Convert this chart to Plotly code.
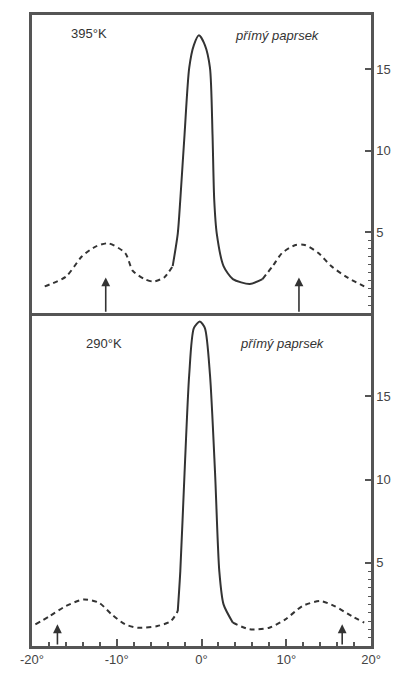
import plotly.graph_objects as go

# Angular scan axis (degrees)
x_ticks = [-20, -10, 0, 10, 20]
x_tick_text = ["-20°", "-10°", "0°", "10°", "20°"]
y_ticks = [5, 10, 15]
y_minor_ticks = [0.5, 1.0, 1.5, 2.0, 2.5, 3.0, 3.5, 4.0, 4.5]

# 395 K scan, split into wings (dashed) and the direct-beam peak (solid)
hot_left_x = [-18.5, -16.0, -14.1, -12.5, -11.0, -9.0, -8.1, -6.7, -5.7, -4.4, -3.4]
hot_left_y = [1.65, 2.25, 3.5, 4.1, 4.3, 3.7, 2.6, 2.1, 1.95, 2.2, 2.9]
hot_mid_x = [-3.4, -2.8, -2.5, -2.0, -1.45, -0.9, -0.3, 0.4, 1.0, 1.3, 1.5, 1.8, 2.6, 3.7, 5.7, 7.2]
hot_mid_y = [2.9, 4.9, 7.0, 11.0, 15.1, 16.5, 17.1, 16.5, 15.1, 11.0, 7.0, 4.9, 2.9, 2.1, 1.8, 2.1]
hot_right_x = [7.2, 8.4, 9.5, 11.1, 12.2, 13.8, 15.3, 17.2, 19.2]
hot_right_y = [2.1, 2.9, 3.7, 4.2, 4.2, 3.7, 2.9, 2.2, 1.65]
hot_arrows_x = [-11.3, 11.5]
hot_arrow_tip = 2.2

# 290 K scan
cold_left_x = [-19.6, -17.9, -16.0, -13.9, -12.1, -10.6, -9.0, -7.5, -5.2, -3.6, -2.8]
cold_left_y = [1.3, 1.8, 2.4, 2.8, 2.6, 1.9, 1.3, 1.1, 1.2, 1.5, 2.1]
cold_mid_x = [-2.8, -2.5, -2.0, -1.45, -0.9, -0.2, 0.4, 1.0, 1.6, 2.1, 2.6, 3.7]
cold_mid_y = [2.1, 4.5, 10.4, 16.3, 19.1, 19.5, 19.1, 16.3, 10.4, 4.5, 2.5, 1.4]
cold_right_x = [3.7, 5.7, 8.0, 9.9, 11.9, 14.0, 15.7, 17.7, 19.2]
cold_right_y = [1.4, 1.0, 1.1, 1.6, 2.4, 2.7, 2.4, 1.8, 1.4]
cold_arrows_x = [-17.0, 16.6]
cold_arrow_tip = 1.3

panel_labels = ["395°K", "290°K"]
beam_label = "přímý paprsek"

INK = "#333333"
FRAME = "#555555"
DASH = "5px,4px"

fig = go.Figure()


def add_curve(xs, ys, xa, ya, dash):
    fig.add_trace(go.Scatter(
        x=xs, y=ys, xaxis=xa, yaxis=ya, mode="lines",
        line=dict(color=INK, width=2, dash=dash, shape="spline", smoothing=0.7),
        hoverinfo="skip", showlegend=False,
    ))


add_curve(hot_left_x, hot_left_y, "x2", "y2", DASH)
add_curve(hot_mid_x, hot_mid_y, "x2", "y2", "solid")
add_curve(hot_right_x, hot_right_y, "x2", "y2", DASH)

add_curve(cold_left_x, cold_left_y, "x", "y", DASH)
add_curve(cold_mid_x, cold_mid_y, "x", "y", "solid")
add_curve(cold_right_x, cold_right_y, "x", "y", DASH)

annotations = []
for ax_x in hot_arrows_x:
    annotations.append(dict(
        x=ax_x, y=hot_arrow_tip, ax=ax_x, ay=0, xref="x2", yref="y2",
        axref="x2", ayref="y2", text="", showarrow=True,
        arrowhead=2, arrowsize=1.1, arrowwidth=1.6, arrowcolor=INK,
    ))
for ax_x in cold_arrows_x:
    annotations.append(dict(
        x=ax_x, y=cold_arrow_tip, ax=ax_x, ay=0, xref="x", yref="y",
        axref="x", ayref="y", text="", showarrow=True,
        arrowhead=2, arrowsize=1.1, arrowwidth=1.6, arrowcolor=INK,
    ))

label_font = dict(family="Liberation Sans, Arial, sans-serif", size=13, color=INK)
annotations += [
    dict(x=-13.3, y=17.2, xref="x2", yref="y2", text=panel_labels[0],
         showarrow=False, font=label_font),
    dict(x=9.0, y=17.1, xref="x2", yref="y2", text="<i>" + beam_label + "</i>",
         showarrow=False, font=label_font),
    dict(x=-11.5, y=18.2, xref="x", yref="y", text=panel_labels[1],
         showarrow=False, font=label_font),
    dict(x=9.5, y=18.2, xref="x", yref="y", text="<i>" + beam_label + "</i>",
         showarrow=False, font=label_font),
]

split = 0.5274
tick_font = dict(family="Liberation Sans, Arial, sans-serif", size=13, color="#444444")

fig.update_layout(
    width=403, height=679,
    margin=dict(l=32, r=26, t=13, b=27),
    paper_bgcolor="white", plot_bgcolor="white",
    showlegend=False,
    annotations=annotations,
    xaxis=dict(
        domain=[0, 1], range=[-20, 20], anchor="y",
        tickvals=x_ticks, ticktext=x_tick_text, tickfont=tick_font,
        ticks="inside", ticklen=7, tickwidth=1.5, tickcolor=FRAME,
        minor=dict(dtick=2, tick0=0, ticks="inside", ticklen=4, tickcolor=FRAME),
        showline=True, linecolor=FRAME, linewidth=2.5, mirror=False,
        showgrid=False, zeroline=False,
    ),
    yaxis=dict(
        domain=[0, split], range=[0, 20], side="right", anchor="x",
        tickvals=y_ticks, tickfont=tick_font,
        ticks="inside", ticklen=6, tickwidth=1.5, tickcolor=FRAME,
        showline=True, linecolor=FRAME, linewidth=2.5, mirror=True,
        showgrid=False, zeroline=False,
    ),
    yaxis3=dict(
        overlaying="y", range=[0, 20], side="right", anchor="x",
        tickvals=y_minor_ticks, showticklabels=False,
        ticks="inside", ticklen=3, tickwidth=1, tickcolor=FRAME,
        showline=False, showgrid=False, zeroline=False,
    ),
    xaxis2=dict(
        domain=[0, 1], range=[-20, 20], anchor="y2", matches="x",
        showticklabels=False, ticks="",
        showline=True, linecolor=FRAME, linewidth=2.5, mirror=True,
        showgrid=False, zeroline=False,
    ),
    yaxis2=dict(
        domain=[split, 1], range=[0, 18.35], side="right", anchor="x2",
        tickvals=y_ticks, tickfont=tick_font,
        ticks="inside", ticklen=6, tickwidth=1.5, tickcolor=FRAME,
        showline=True, linecolor=FRAME, linewidth=2.5, mirror=True,
        showgrid=False, zeroline=False,
    ),
    yaxis4=dict(
        overlaying="y2", range=[0, 18.35], side="right", anchor="x2",
        tickvals=y_minor_ticks, showticklabels=False,
        ticks="inside", ticklen=3, tickwidth=1, tickcolor=FRAME,
        showline=False, showgrid=False, zeroline=False,
    ),
)

# empty traces so the overlay tick axes are drawn
fig.add_trace(go.Scatter(x=[None], y=[None], xaxis="x", yaxis="y3",
                         showlegend=False, hoverinfo="skip"))
fig.add_trace(go.Scatter(x=[None], y=[None], xaxis="x2", yaxis="y4",
                         showlegend=False, hoverinfo="skip"))

fig.write_html("out.html")
